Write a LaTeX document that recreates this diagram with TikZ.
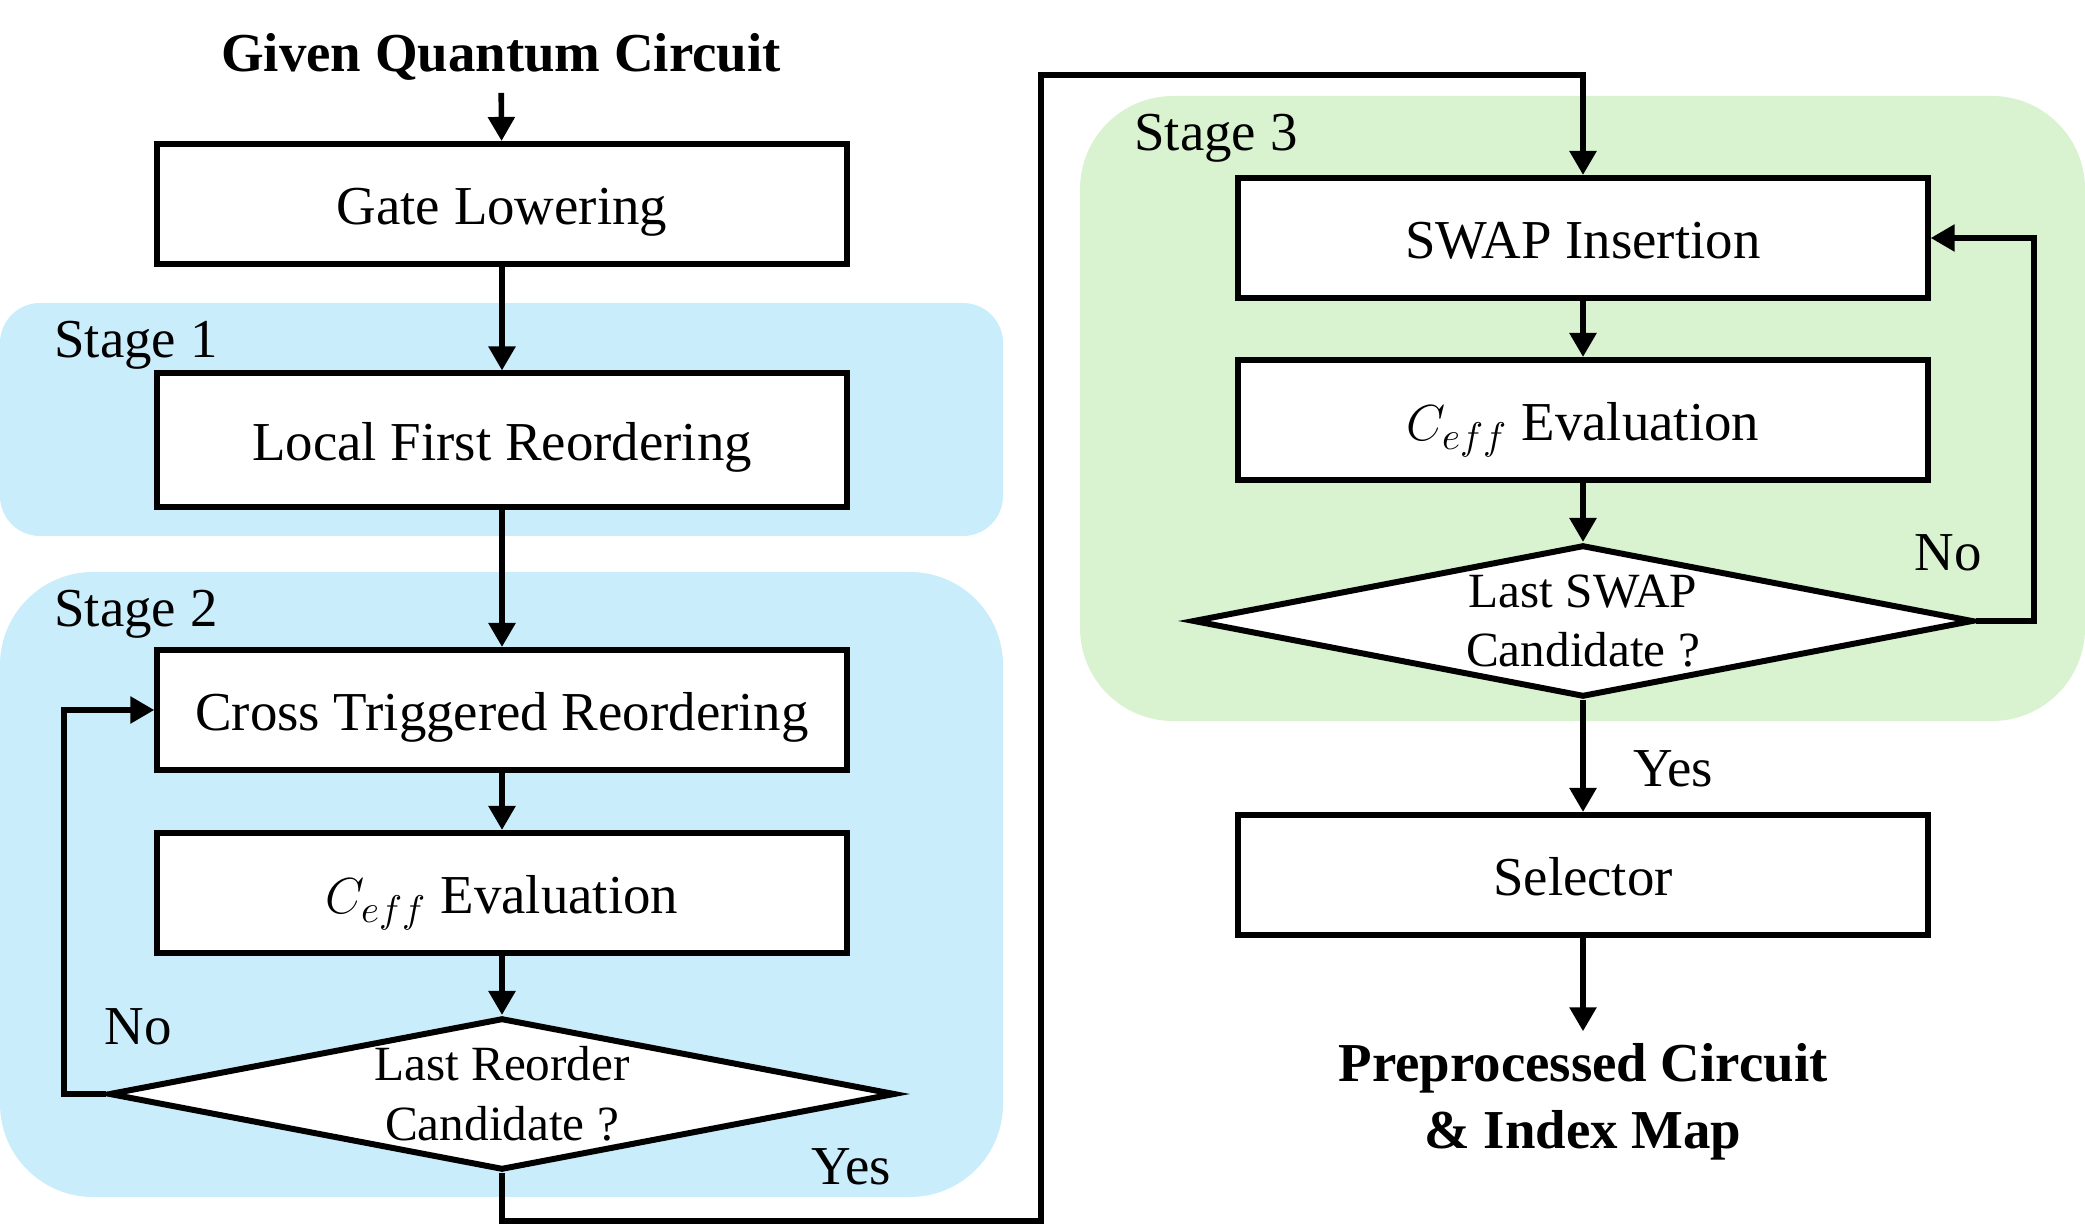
\documentclass[tikz,border=0pt]{standalone}
\usepackage{fontspec}
\setmainfont{Liberation Serif}
\usepackage{xcolor}
\usetikzlibrary{shapes.geometric,arrows.meta}
\definecolor{stageblue}{HTML}{CAEDFB}
\definecolor{stagegreen}{HTML}{D9F2D0}

\begin{document}
\begin{tikzpicture}[x=0.01cm,y=-0.01cm,
  box/.style={draw,line width=1.7pt,fill=white,minimum width=6.89cm,minimum height=1.2cm,
    text height=11.4pt,text depth=0pt,font=\fontsize{15.6}{18}\selectfont},
  decide/.style={draw,diamond,aspect=5.17,line width=1.7pt,fill=white,inner xsep=0pt,inner ysep=-2pt,
    align=center,minimum width=7.86cm,minimum height=1.52cm,font=\fontsize{14}{17}\selectfont},
  flow/.style={line width=1.6pt,-{Triangle[length=0.24cm,width=0.26cm]}},
  lbl/.style={font=\fontsize{15.6}{18}\selectfont},
  io/.style={font=\fontsize{15.6}{19}\selectfont\bfseries,align=center}]
\useasboundingbox (0,0) rectangle (2085,1231);
% stage backgrounds
\fill[stageblue,rounded corners=0.4cm] (0,303) rectangle (1003,536);
\fill[stageblue,rounded corners=0.93cm] (0,572) rectangle (1003,1197);
\fill[stagegreen,rounded corners=0.93cm] (1080,96) rectangle (2085,721);
\node[lbl,anchor=west] (stA) at (42,345) {Stage 1};
\node[lbl,anchor=west] (stB) at (42,614) {Stage 2};
\node[lbl,anchor=west] (stC) at (1122,138) {Stage 3};

% left column
\node[io] (given) at (501,57) {Given Quantum Circuit};
\node[box] (gate) at (502,204) {Gate Lowering};
\node[box,minimum height=1.33cm] (lfr) at (502,440) {Local First Reordering};
\node[box] (ctr) at (502,710) {Cross Triggered Reordering};
\node[box] (ceffA) at (502,893) {$C_{eff}$ Evaluation};
\node[decide] (lastA) at (502,1094) {Last Reorder\\Candidate ?};

% right column
\node[box] (swap) at (1583,238) {SWAP Insertion};
\node[box] (ceffB) at (1583,420) {$C_{eff}$ Evaluation};
\node[decide,minimum width=7.8cm] (lastB) at (1583,621) {Last SWAP\\Candidate ?};
\node[box] (sel) at (1583,875) {Selector};
\node[io] (out) at (1583,1102) {Preprocessed Circuit\\\& Index Map};

% branch labels
\node[lbl] (noA) at (138,1027) {No};
\node[lbl] (yesA) at (851,1167) {Yes};
\node[lbl] (noB) at (1948,553) {No};
\node[lbl] (yesB) at (1673,769) {Yes};

\coordinate (loopA) at (64,0);
\coordinate (downA) at (1041,1221);
\coordinate (upA) at (1041,75);
\coordinate (loopB) at (2034,0);

\draw[flow] (given) -- (gate);
\draw[flow] (gate) -- (lfr);
\draw[flow] (lfr) -- (ctr);
\draw[flow] (ctr) -- (ceffA);
\draw[flow] (ceffA) -- (lastA);
\draw[flow] (lastA.west) -- (lastA.west -| loopA) |- (ctr.west);
\draw[flow] (lastA.south) |- (downA) -- (upA) -| (swap.north);
\draw[flow] (swap) -- (ceffB);
\draw[flow] (ceffB) -- (lastB);
\draw[flow] (lastB.east) -- (lastB.east -| loopB) |- (swap.east);
\draw[flow] (lastB) -- (sel);
\draw[flow] (sel) -- (out);
\end{tikzpicture}
\end{document}
